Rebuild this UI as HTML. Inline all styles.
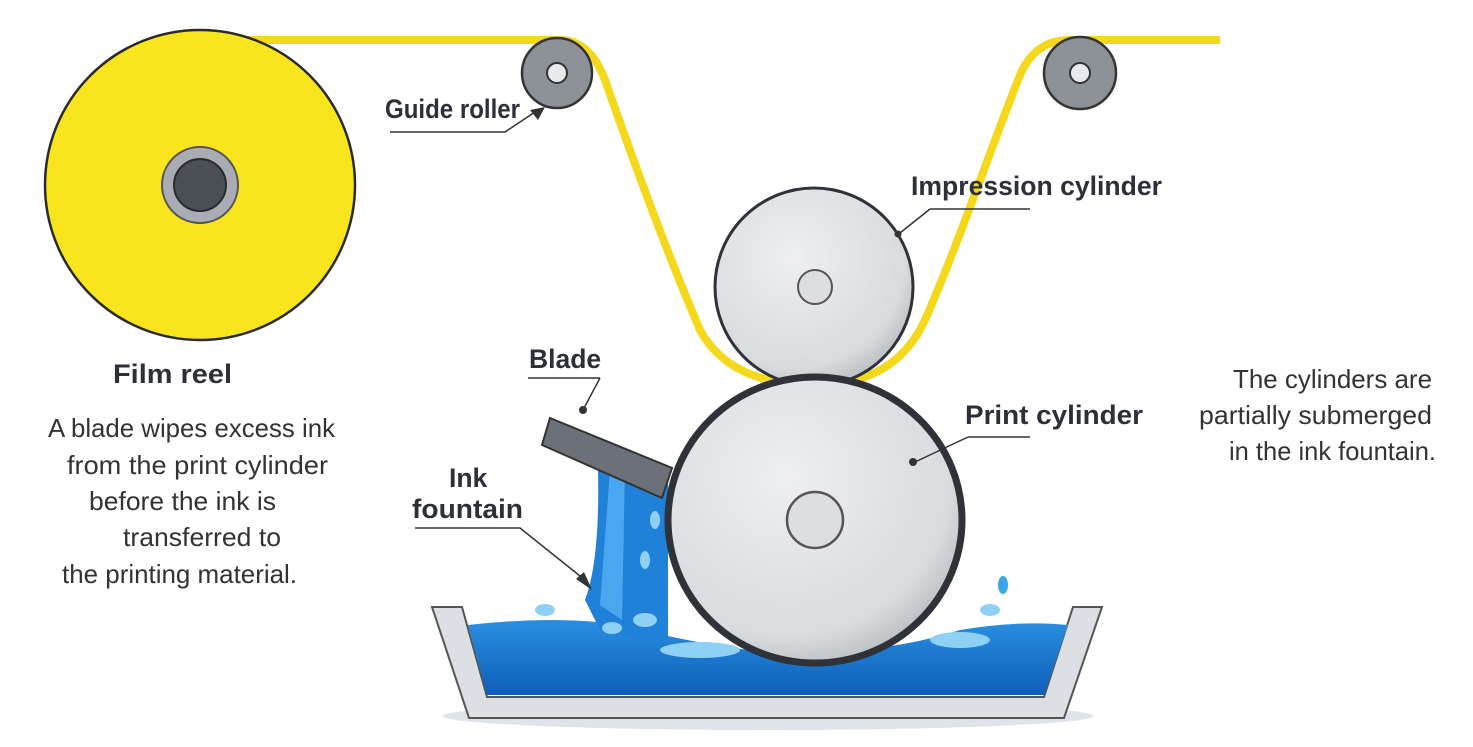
<!DOCTYPE html>
<html><head><style>
body{margin:0;background:#fff;}
svg{display:block;font-family:"Liberation Sans",sans-serif;}
.b{font-weight:bold;fill:#2d3038;font-size:26.5px;}
.t{fill:#333;font-size:26px;}
</style></head><body>
<svg width="1473" height="747" viewBox="0 0 1473 747">
<defs>
<radialGradient id="cyl" cx="0.4" cy="0.35" r="0.7"><stop offset="0" stop-color="#eeeff1"/><stop offset="0.8" stop-color="#d9dbde"/><stop offset="1" stop-color="#b8bbbf"/></radialGradient>
<linearGradient id="ink" x1="0" y1="0" x2="0" y2="1"><stop offset="0" stop-color="#2a8fe0"/><stop offset="1" stop-color="#0d5fb8"/></linearGradient>
</defs>
<ellipse cx="768" cy="716" rx="325" ry="14" fill="#dfe3ea"/>
<!-- film -->
<path d="M200 40 L560 40 Q590 40 605 80 C640 180 670 260 700 330 Q730 385 815 385 Q895 385 925 320 C960 240 990 150 1020 75 Q1035 40 1070 40 L1220 40" fill="none" stroke="#f4d81c" stroke-width="8"/>
<circle cx="200" cy="185" r="155" fill="#f8e51e" stroke="#2a2a2a" stroke-width="2.5"/>
<circle cx="200" cy="185" r="38" fill="#a9adb3" stroke="#555" stroke-width="2"/>
<circle cx="200" cy="185" r="26" fill="#4a4e55" stroke="#2a2a2a" stroke-width="2"/>
<circle cx="557" cy="73" r="35" fill="#8d9198" stroke="#333" stroke-width="2.5"/>
<circle cx="557" cy="73" r="10" fill="#e8e9eb" stroke="#333" stroke-width="2"/>
<circle cx="1080" cy="73" r="36" fill="#8d9198" stroke="#333" stroke-width="2.5"/>
<circle cx="1080" cy="73" r="10" fill="#e8e9eb" stroke="#333" stroke-width="2"/>
<circle cx="814" cy="287" r="99" fill="url(#cyl)" stroke="#2f3238" stroke-width="3"/>
<circle cx="815" cy="287" r="17" fill="#dcdee1" stroke="#555" stroke-width="2"/>
<polygon points="432,607 462,607 487,697 1044,697 1073,607 1102,607 1064,718 469,718" fill="#dcdfe3" stroke="#555" stroke-width="2"/>
<path d="M468,625 Q560,615 620,625 Q720,650 800,655 Q900,650 960,630 Q1020,620 1068,625 L1044,695 L487,695 Z" fill="url(#ink)"/>
<path d="M585,600 Q600,560 598,470 L668,470 L668,640 Q640,640 600,630 Z" fill="#1f82d8"/>
<path d="M600,605 L610,470 L625,470 L622,620Z" fill="#4aa6ee"/>
<g fill="#8fd0f5">
<ellipse cx="545" cy="610" rx="10" ry="6"/><ellipse cx="612" cy="628" rx="10" ry="6"/><ellipse cx="645" cy="620" rx="12" ry="7"/>
<ellipse cx="655" cy="520" rx="5" ry="9"/><ellipse cx="645" cy="560" rx="5" ry="9"/><ellipse cx="990" cy="610" rx="10" ry="6"/>
<ellipse cx="1003" cy="585" rx="5" ry="9" fill="#3aa7ea"/><ellipse cx="960" cy="640" rx="30" ry="8"/><ellipse cx="700" cy="650" rx="40" ry="8"/>
</g>
<polygon points="550,418 672,468 662,498 542,445" fill="#6c7078" stroke="#333" stroke-width="2"/>
<ellipse cx="815" cy="520" rx="147" ry="143" fill="url(#cyl)" stroke="#2f3238" stroke-width="7"/>
<circle cx="815" cy="520" r="28" fill="#dcdee1" stroke="#555" stroke-width="2.5"/>
<g stroke="#333" stroke-width="1.5" fill="none">
<path d="M390 132 L505 132 L535 112"/>
<path d="M930 209 L1030 209"/><path d="M930 209 L900 233"/>
<path d="M968 437 L1030 437"/><path d="M968 437 L915 462"/>
<path d="M528 378 L600 378"/><path d="M600 378 L583 410"/>
<path d="M415 528 L520 528 L585 580"/>
</g>
<g fill="#333">
<polygon points="545,107 530,110 538,120"/><circle cx="898" cy="234" r="3.5"/><circle cx="913" cy="462" r="4"/>
<circle cx="583" cy="410" r="4"/><polygon points="592,590 576,579 584,572"/>
</g>
<text class="b" x="385" y="118" textLength="135" lengthAdjust="spacingAndGlyphs">Guide roller</text>
<text class="b" x="911" y="195" textLength="251" lengthAdjust="spacingAndGlyphs">Impression cylinder</text>
<text class="b" x="965" y="424" textLength="178" lengthAdjust="spacingAndGlyphs">Print cylinder</text>
<text class="b" x="529" y="368">Blade</text>
<text class="b" x="449" y="487">Ink</text>
<text class="b" x="412" y="518" textLength="111" lengthAdjust="spacingAndGlyphs">fountain</text>
<text class="b" x="113" y="383" textLength="119" lengthAdjust="spacingAndGlyphs">Film reel</text>
<g class="t">
<text x="48" y="437" textLength="287" lengthAdjust="spacingAndGlyphs">A blade wipes excess ink</text>
<text x="67" y="474" textLength="261" lengthAdjust="spacingAndGlyphs">from the print cylinder</text>
<text x="89" y="510" textLength="187" lengthAdjust="spacingAndGlyphs">before the ink is</text>
<text x="123" y="546" textLength="158" lengthAdjust="spacingAndGlyphs">transferred to</text>
<text x="62" y="583" textLength="235" lengthAdjust="spacingAndGlyphs">the printing material.</text>
<text x="1233" y="388" textLength="199" lengthAdjust="spacingAndGlyphs">The cylinders are</text>
<text x="1199" y="424" textLength="233" lengthAdjust="spacingAndGlyphs">partially submerged</text>
<text x="1229" y="460" textLength="207" lengthAdjust="spacingAndGlyphs">in the ink fountain.</text>
</g>
</svg>
</body></html>
